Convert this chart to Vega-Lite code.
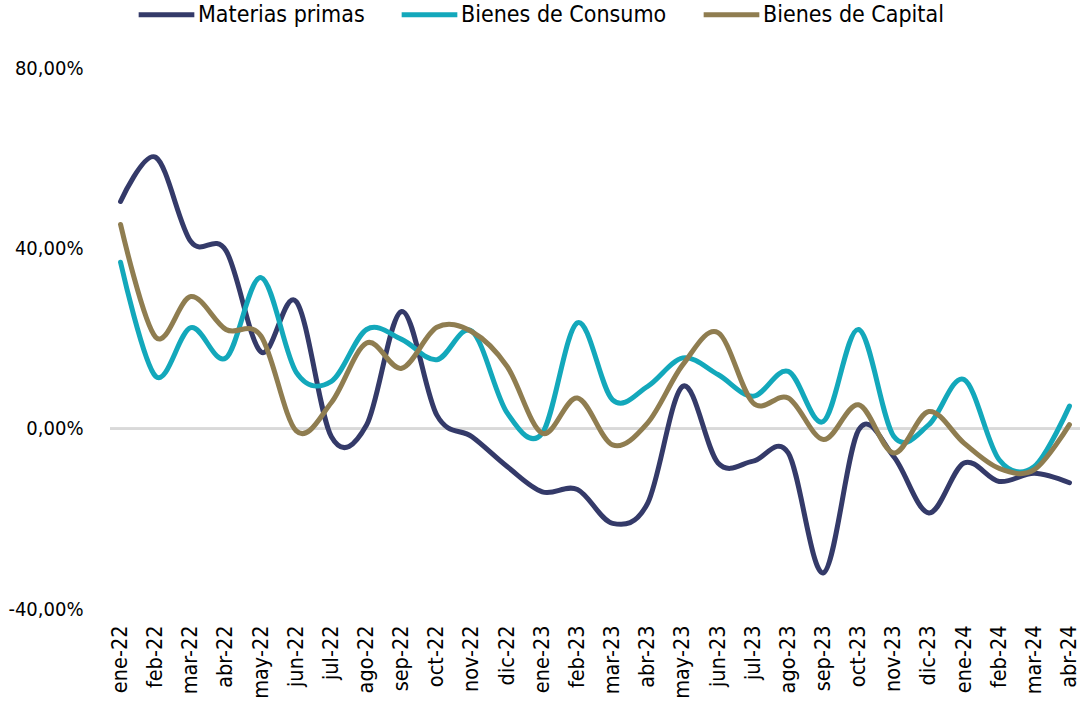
{
  "$schema": "https://vega.github.io/schema/vega-lite/v6.json",
  "width": 970,
  "height": 541,
  "autosize": {"type": "none"},
  "padding": {"left": 110, "top": 68, "right": 2, "bottom": 93},
  "background": "white",
  "config": {
    "view": {"stroke": null},
    "font": "'DejaVu Sans Condensed', 'DejaVu Sans', sans-serif"
  },
  "datasets": {
    "series": [
      {"mes": "ene-22", "serie": "Materias primas", "valor": 50.4},
      {"mes": "feb-22", "serie": "Materias primas", "valor": 60.2},
      {"mes": "mar-22", "serie": "Materias primas", "valor": 41.5},
      {"mes": "abr-22", "serie": "Materias primas", "valor": 39.5},
      {"mes": "may-22", "serie": "Materias primas", "valor": 17},
      {"mes": "jun-22", "serie": "Materias primas", "valor": 28.2},
      {"mes": "jul-22", "serie": "Materias primas", "valor": -1.8},
      {"mes": "ago-22", "serie": "Materias primas", "valor": 0.8},
      {"mes": "sep-22", "serie": "Materias primas", "valor": 26},
      {"mes": "oct-22", "serie": "Materias primas", "valor": 3},
      {"mes": "nov-22", "serie": "Materias primas", "valor": -1.8},
      {"mes": "dic-22", "serie": "Materias primas", "valor": -8.4},
      {"mes": "ene-23", "serie": "Materias primas", "valor": -14},
      {"mes": "feb-23", "serie": "Materias primas", "valor": -13.5},
      {"mes": "mar-23", "serie": "Materias primas", "valor": -21},
      {"mes": "abr-23", "serie": "Materias primas", "valor": -16.5},
      {"mes": "may-23", "serie": "Materias primas", "valor": 9.4},
      {"mes": "jun-23", "serie": "Materias primas", "valor": -7.6},
      {"mes": "jul-23", "serie": "Materias primas", "valor": -7.2},
      {"mes": "ago-23", "serie": "Materias primas", "valor": -5.4},
      {"mes": "sep-23", "serie": "Materias primas", "valor": -32},
      {"mes": "oct-23", "serie": "Materias primas", "valor": -0.3},
      {"mes": "nov-23", "serie": "Materias primas", "valor": -6.2},
      {"mes": "dic-23", "serie": "Materias primas", "valor": -18.7},
      {"mes": "ene-24", "serie": "Materias primas", "valor": -7.6},
      {"mes": "feb-24", "serie": "Materias primas", "valor": -11.7},
      {"mes": "mar-24", "serie": "Materias primas", "valor": -9.9},
      {"mes": "abr-24", "serie": "Materias primas", "valor": -12},
      {"mes": "ene-22", "serie": "Bienes de Consumo", "valor": 36.9},
      {"mes": "feb-22", "serie": "Bienes de Consumo", "valor": 11.6},
      {"mes": "mar-22", "serie": "Bienes de Consumo", "valor": 22.4},
      {"mes": "abr-22", "serie": "Bienes de Consumo", "valor": 15.7},
      {"mes": "may-22", "serie": "Bienes de Consumo", "valor": 33.5},
      {"mes": "jun-22", "serie": "Bienes de Consumo", "valor": 12.5},
      {"mes": "jul-22", "serie": "Bienes de Consumo", "valor": 10.5},
      {"mes": "ago-22", "serie": "Bienes de Consumo", "valor": 22},
      {"mes": "sep-22", "serie": "Bienes de Consumo", "valor": 19.8},
      {"mes": "oct-22", "serie": "Bienes de Consumo", "valor": 15.3},
      {"mes": "nov-22", "serie": "Bienes de Consumo", "valor": 21.6},
      {"mes": "dic-22", "serie": "Bienes de Consumo", "valor": 3.5},
      {"mes": "ene-23", "serie": "Bienes de Consumo", "valor": -1},
      {"mes": "feb-23", "serie": "Bienes de Consumo", "valor": 23.5},
      {"mes": "mar-23", "serie": "Bienes de Consumo", "valor": 6.4},
      {"mes": "abr-23", "serie": "Bienes de Consumo", "valor": 9.4},
      {"mes": "may-23", "serie": "Bienes de Consumo", "valor": 15.7},
      {"mes": "jun-23", "serie": "Bienes de Consumo", "valor": 12},
      {"mes": "jul-23", "serie": "Bienes de Consumo", "valor": 7.2},
      {"mes": "ago-23", "serie": "Bienes de Consumo", "valor": 12.7},
      {"mes": "sep-23", "serie": "Bienes de Consumo", "valor": 1.6},
      {"mes": "oct-23", "serie": "Bienes de Consumo", "valor": 22},
      {"mes": "nov-23", "serie": "Bienes de Consumo", "valor": -1.7},
      {"mes": "dic-23", "serie": "Bienes de Consumo", "valor": 0.9},
      {"mes": "ene-24", "serie": "Bienes de Consumo", "valor": 10.9},
      {"mes": "feb-24", "serie": "Bienes de Consumo", "valor": -6.9},
      {"mes": "mar-24", "serie": "Bienes de Consumo", "valor": -8.4},
      {"mes": "abr-24", "serie": "Bienes de Consumo", "valor": 5},
      {"mes": "ene-22", "serie": "Bienes de Capital", "valor": 45.3},
      {"mes": "feb-22", "serie": "Bienes de Capital", "valor": 20.3},
      {"mes": "mar-22", "serie": "Bienes de Capital", "valor": 29.3},
      {"mes": "abr-22", "serie": "Bienes de Capital", "valor": 22},
      {"mes": "may-22", "serie": "Bienes de Capital", "valor": 20.5},
      {"mes": "jun-22", "serie": "Bienes de Capital", "valor": -0.5},
      {"mes": "jul-22", "serie": "Bienes de Capital", "valor": 5.8},
      {"mes": "ago-22", "serie": "Bienes de Capital", "valor": 19},
      {"mes": "sep-22", "serie": "Bienes de Capital", "valor": 13.4},
      {"mes": "oct-22", "serie": "Bienes de Capital", "valor": 22.5},
      {"mes": "nov-22", "serie": "Bienes de Capital", "valor": 21.5},
      {"mes": "dic-22", "serie": "Bienes de Capital", "valor": 13.8},
      {"mes": "ene-23", "serie": "Bienes de Capital", "valor": -1},
      {"mes": "feb-23", "serie": "Bienes de Capital", "valor": 6.8},
      {"mes": "mar-23", "serie": "Bienes de Capital", "valor": -3.6},
      {"mes": "abr-23", "serie": "Bienes de Capital", "valor": 1.3},
      {"mes": "may-23", "serie": "Bienes de Capital", "valor": 14.2},
      {"mes": "jun-23", "serie": "Bienes de Capital", "valor": 21.3},
      {"mes": "jul-23", "serie": "Bienes de Capital", "valor": 5.7},
      {"mes": "ago-23", "serie": "Bienes de Capital", "valor": 6.8},
      {"mes": "sep-23", "serie": "Bienes de Capital", "valor": -2.4},
      {"mes": "oct-23", "serie": "Bienes de Capital", "valor": 5.3},
      {"mes": "nov-23", "serie": "Bienes de Capital", "valor": -5.4},
      {"mes": "dic-23", "serie": "Bienes de Capital", "valor": 3.8},
      {"mes": "ene-24", "serie": "Bienes de Capital", "valor": -3.2},
      {"mes": "feb-24", "serie": "Bienes de Capital", "valor": -8.8},
      {"mes": "mar-24", "serie": "Bienes de Capital", "valor": -9.1},
      {"mes": "abr-24", "serie": "Bienes de Capital", "valor": 0.9}
    ]
  },
  "data": {"name": "series"},
  "encoding": {
    "x": {
      "field": "mes",
      "type": "ordinal",
      "sort": null,
      "scale": {"type": "point", "padding": 0.3},
      "axis": {
        "title": null,
        "domain": false,
        "ticks": false,
        "labelAngle": 270,
        "labelAlign": "right",
        "labelBaseline": "middle",
        "labelPadding": 16,
        "labelFontSize": 21.5,
        "labelColor": "#000000"
      }
    }
  },
  "layer": [
    {
      "mark": {"type": "rule", "color": "#d9d9d9", "strokeWidth": 2},
      "encoding": {"y": {"datum": 0, "type": "quantitative"}, "x": null}
    },
    {
      "mark": {"type": "line", "interpolate": "cardinal", "strokeWidth": 5, "strokeCap": "round", "strokeJoin": "round"},
      "encoding": {
        "y": {
          "field": "valor",
          "type": "quantitative",
          "scale": {"domain": [-40, 80], "nice": false, "zero": false},
          "axis": {
            "title": null,
            "values": [-40, 0, 40, 80],
            "grid": false,
            "domain": false,
            "ticks": false,
            "labelPadding": 27,
            "labelFontSize": 20,
            "labelColor": "#000000",
            "labelExpr": "(datum.value < 0 ? '-' : '') + replace(format(abs(datum.value), '.2f'), '.', ',') + '%'"
          }
        },
        "color": {
          "field": "serie",
          "type": "nominal",
          "sort": ["Materias primas", "Bienes de Consumo", "Bienes de Capital"],
          "scale": {
            "domain": ["Materias primas", "Bienes de Consumo", "Bienes de Capital"],
            "range": ["#343a69", "#13a8bb", "#8f7d50"]
          },
          "legend": {
            "title": null,
            "orient": "none",
            "direction": "horizontal",
            "legendX": 26,
            "legendY": -84,
            "symbolType": "stroke",
            "symbolSize": 3100,
            "symbolStrokeWidth": 5,
            "labelFontSize": 23,
            "labelColor": "#000000",
            "labelOffset": 1,
            "columnPadding": 26,
            "labelLimit": 400
          }
        }
      }
    }
  ]
}
